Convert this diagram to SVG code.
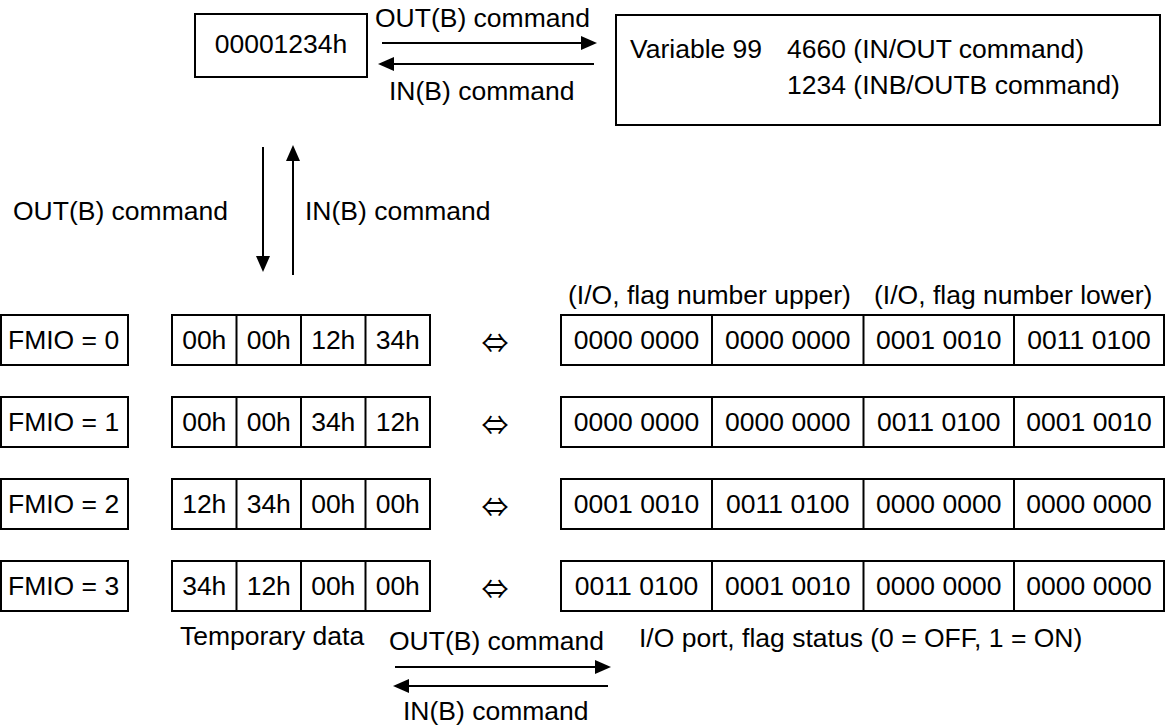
<svg xmlns="http://www.w3.org/2000/svg" width="1167" height="728" viewBox="0 0 1167 728">
<style>
  text { font-family: "Liberation Sans", Arial, sans-serif; font-size: 26.5px; fill: #000; }
  .c { text-anchor: middle; }
  .box { fill: #fff; stroke: #000; stroke-width: 2; }
  .div { stroke: #000; stroke-width: 2; }
  .arr { stroke: #000; stroke-width: 2; fill: none; marker-end: url(#ah); }
  text.eq { font-family: "Noto Sans CJK JP", "DejaVu Sans", sans-serif; font-size: 27px; text-anchor: middle; }
</style>
<defs>
  <marker id="ah" markerUnits="userSpaceOnUse" markerWidth="16" markerHeight="14" refX="6" refY="7" orient="auto">
    <path d="M0,0 L16,7 L0,14 z" fill="#000"/>
  </marker>
</defs>
<rect width="1167" height="728" fill="#fff"/>

<g id="source">
  <rect class="box" x="195" y="14" width="172" height="63"/>
  <text class="c" x="281" y="53">00001234h</text>
</g>

<g id="variable">
  <rect class="box" x="616" y="15" width="544" height="110"/>
  <text x="630" y="58">Variable 99</text>
  <text x="787" y="58">4660 (IN/OUT command)</text>
  <text x="787" y="94">1234 (INB/OUTB command)</text>
</g>

<g id="connectors">
  <line class="arr" x1="382" y1="43" x2="587" y2="43"/>
  <line class="arr" x1="594" y1="64" x2="388" y2="64"/>
  <line class="arr" x1="263" y1="147" x2="263" y2="262"/>
  <line class="arr" x1="293" y1="275" x2="293" y2="155"/>
  <line class="arr" x1="395" y1="667" x2="601" y2="667"/>
  <line class="arr" x1="608" y1="686" x2="403" y2="686"/>
</g>

<g id="connector-labels">
  <text x="375" y="27">OUT(B) command</text>
  <text x="389" y="100">IN(B) command</text>
  <text x="13" y="220">OUT(B) command</text>
  <text x="305" y="220">IN(B) command</text>
  <text x="389" y="650">OUT(B) command</text>
  <text x="403" y="720">IN(B) command</text>
</g>

<g id="headers">
  <text x="568" y="304">(I/O, flag number upper)</text>
  <text x="874" y="304">(I/O, flag number lower)</text>
  <text x="180" y="645">Temporary data</text>
  <text x="639" y="647">I/O port, flag status (0 = OFF, 1 = ON)</text>
</g>

<g id="row0">
  <rect class="box" x="1" y="315" width="127" height="50"/>
  <text x="8" y="349">FMIO = 0</text>
  <rect class="box" x="172" y="315" width="258" height="50"/>
  <line class="div" x1="236.5" y1="315" x2="236.5" y2="365"/>
  <line class="div" x1="301" y1="315" x2="301" y2="365"/>
  <line class="div" x1="365.5" y1="315" x2="365.5" y2="365"/>
  <text class="c" x="204.25" y="349">00h</text>
  <text class="c" x="268.75" y="349">00h</text>
  <text class="c" x="333.25" y="349">12h</text>
  <text class="c" x="397.75" y="349">34h</text>
  <text class="eq" x="495" y="353">⇔</text>
  <rect class="box" x="561" y="315" width="603" height="50"/>
  <line class="div" x1="712" y1="315" x2="712" y2="365"/>
  <line class="div" x1="863.5" y1="315" x2="863.5" y2="365"/>
  <line class="div" x1="1014" y1="315" x2="1014" y2="365"/>
  <text class="c" x="636.5" y="349">0000 0000</text>
  <text class="c" x="787.75" y="349">0000 0000</text>
  <text class="c" x="938.75" y="349">0001 0010</text>
  <text class="c" x="1089" y="349">0011 0100</text>
</g>

<g id="row1">
  <rect class="box" x="1" y="397" width="127" height="50"/>
  <text x="8" y="431">FMIO = 1</text>
  <rect class="box" x="172" y="397" width="258" height="50"/>
  <line class="div" x1="236.5" y1="397" x2="236.5" y2="447"/>
  <line class="div" x1="301" y1="397" x2="301" y2="447"/>
  <line class="div" x1="365.5" y1="397" x2="365.5" y2="447"/>
  <text class="c" x="204.25" y="431">00h</text>
  <text class="c" x="268.75" y="431">00h</text>
  <text class="c" x="333.25" y="431">34h</text>
  <text class="c" x="397.75" y="431">12h</text>
  <text class="eq" x="495" y="435">⇔</text>
  <rect class="box" x="561" y="397" width="603" height="50"/>
  <line class="div" x1="712" y1="397" x2="712" y2="447"/>
  <line class="div" x1="863.5" y1="397" x2="863.5" y2="447"/>
  <line class="div" x1="1014" y1="397" x2="1014" y2="447"/>
  <text class="c" x="636.5" y="431">0000 0000</text>
  <text class="c" x="787.75" y="431">0000 0000</text>
  <text class="c" x="938.75" y="431">0011 0100</text>
  <text class="c" x="1089" y="431">0001 0010</text>
</g>

<g id="row2">
  <rect class="box" x="1" y="479" width="127" height="50"/>
  <text x="8" y="513">FMIO = 2</text>
  <rect class="box" x="172" y="479" width="258" height="50"/>
  <line class="div" x1="236.5" y1="479" x2="236.5" y2="529"/>
  <line class="div" x1="301" y1="479" x2="301" y2="529"/>
  <line class="div" x1="365.5" y1="479" x2="365.5" y2="529"/>
  <text class="c" x="204.25" y="513">12h</text>
  <text class="c" x="268.75" y="513">34h</text>
  <text class="c" x="333.25" y="513">00h</text>
  <text class="c" x="397.75" y="513">00h</text>
  <text class="eq" x="495" y="517">⇔</text>
  <rect class="box" x="561" y="479" width="603" height="50"/>
  <line class="div" x1="712" y1="479" x2="712" y2="529"/>
  <line class="div" x1="863.5" y1="479" x2="863.5" y2="529"/>
  <line class="div" x1="1014" y1="479" x2="1014" y2="529"/>
  <text class="c" x="636.5" y="513">0001 0010</text>
  <text class="c" x="787.75" y="513">0011 0100</text>
  <text class="c" x="938.75" y="513">0000 0000</text>
  <text class="c" x="1089" y="513">0000 0000</text>
</g>

<g id="row3">
  <rect class="box" x="1" y="561" width="127" height="50"/>
  <text x="8" y="595">FMIO = 3</text>
  <rect class="box" x="172" y="561" width="258" height="50"/>
  <line class="div" x1="236.5" y1="561" x2="236.5" y2="611"/>
  <line class="div" x1="301" y1="561" x2="301" y2="611"/>
  <line class="div" x1="365.5" y1="561" x2="365.5" y2="611"/>
  <text class="c" x="204.25" y="595">34h</text>
  <text class="c" x="268.75" y="595">12h</text>
  <text class="c" x="333.25" y="595">00h</text>
  <text class="c" x="397.75" y="595">00h</text>
  <text class="eq" x="495" y="599">⇔</text>
  <rect class="box" x="561" y="561" width="603" height="50"/>
  <line class="div" x1="712" y1="561" x2="712" y2="611"/>
  <line class="div" x1="863.5" y1="561" x2="863.5" y2="611"/>
  <line class="div" x1="1014" y1="561" x2="1014" y2="611"/>
  <text class="c" x="636.5" y="595">0011 0100</text>
  <text class="c" x="787.75" y="595">0001 0010</text>
  <text class="c" x="938.75" y="595">0000 0000</text>
  <text class="c" x="1089" y="595">0000 0000</text>
</g>
</svg>
